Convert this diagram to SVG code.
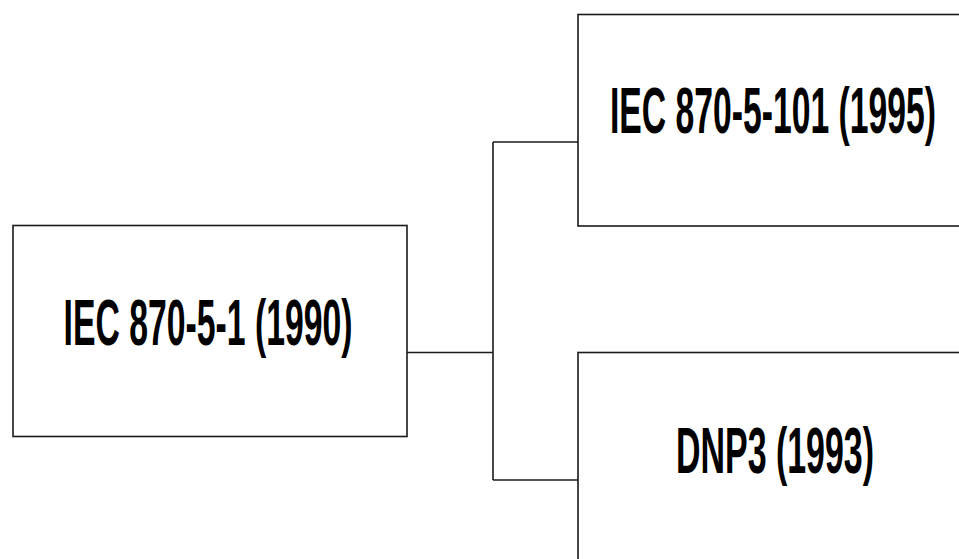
<svg xmlns="http://www.w3.org/2000/svg" width="959" height="559" viewBox="0 0 959 559">
<style>
.box{fill:#ffffff;stroke:#1a1a1a;stroke-width:1.6}
.lbl{font-family:"Liberation Sans Narrow","Liberation Sans",Arial,sans-serif;font-weight:bold;font-size:64px;fill:#000;text-anchor:middle}
.con{fill:none;stroke:#1a1a1a;stroke-width:1.6}
</style>
<rect width="959" height="559" fill="#ffffff"/>
<g id="connectors">
<path class="con" d="M407,352.5 H493"/>
<path class="con" d="M493,142 V480"/>
<path class="con" d="M493,142 H578"/>
<path class="con" d="M493,480 H578"/>
</g>
<g id="node-iec870-5-1">
<rect class="box" x="13" y="225.5" width="394" height="211"/>
<text class="lbl" x="208" y="345" textLength="289" lengthAdjust="spacingAndGlyphs">IEC 870-5-1 (1990)</text>
</g>
<g id="node-iec870-5-101">
<rect class="box" x="578" y="14.5" width="384" height="211.5"/>
<text class="lbl" x="773" y="133" textLength="326" lengthAdjust="spacingAndGlyphs">IEC 870-5-101 (1995)</text>
</g>
<g id="node-dnp3">
<rect class="box" x="578" y="352.5" width="384" height="210"/>
<text class="lbl" x="775" y="473" textLength="198" lengthAdjust="spacingAndGlyphs">DNP3 (1993)</text>
</g>
</svg>
